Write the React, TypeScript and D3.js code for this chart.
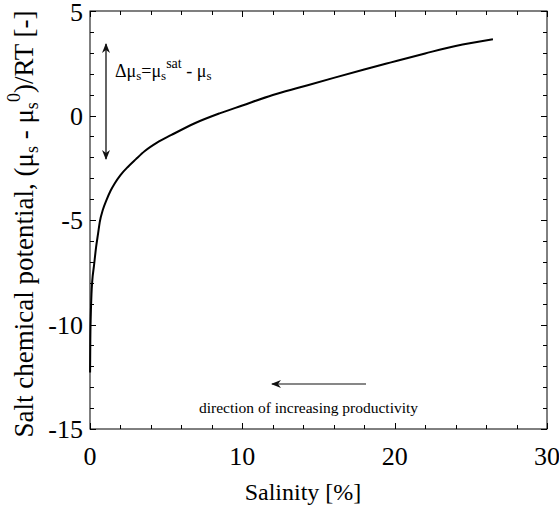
import React from 'react'
import * as d3 from 'd3'

// values
const salinity = [0.005, 0.02, 0.05, 0.1, 0.15, 0.26, 0.4, 0.53, 0.64, 0.85, 1.08, 1.35, 1.62, 2.0, 2.5, 3.0, 3.6, 4.4, 5.35, 6.88, 8.5, 10.0, 12.0, 13.8, 16.0, 18.0, 19.7, 22.0, 24.0, 26.45]
const potential = [-12.3, -10.8, -9.6, -8.5, -7.9, -7.2, -6.3, -5.65, -5.1, -4.5, -4.05, -3.6, -3.25, -2.85, -2.45, -2.1, -1.7, -1.3, -0.93, -0.37, 0.1, 0.48, 0.98, 1.35, 1.8, 2.2, 2.53, 2.97, 3.33, 3.65]
const xTicks = [0, 10, 20, 30]
const yTicks = [5, 0, -5, -10, -15]

const W = 559
const H = 508
const serif = { fontFamily: '"Liberation Serif", Tinos, serif' }

const left = 90, right = 547, top = 11, bottom = 429
const x = d3.scaleLinear().domain([0, 30]).range([left, right])
const y = d3.scaleLinear().domain([-15, 5]).range([bottom, top])

export default function App () {
  const pts: [number, number][] = salinity.map((s, i) => [s, potential[i]])
  const line = d3.line<[number, number]>()
    .x(d => x(d[0])).y(d => y(d[1]))
    .curve(d3.curveMonotoneX)

  const xMinor = d3.range(0, 31, 2)
  const yMinor = d3.range(-15, 6, 1)

  return (
    <svg width={W} height={H}
      style={{ position: 'absolute', left: 0, top: 0, background: '#fff', ...serif }}>
      <defs>
        <marker id="head" viewBox="0 0 10 10" refX={9} refY={5}
          markerWidth={10} markerHeight={10} markerUnits="userSpaceOnUse"
          orient="auto-start-reverse">
          <path d="M0,1 L10,5 L0,9 L3,5 Z" fill="#111" />
        </marker>
      </defs>

      {/* frame */}
      <rect x={left} y={top} width={right - left} height={bottom - top}
        fill="none" stroke="#000" strokeWidth={1} />

      {/* inward ticks, all four sides */}
      <g stroke="#000" strokeWidth={1}>
        {xMinor.map(v => {
          const len = v % 10 === 0 ? 6 : 4
          const px = Math.round(x(v)) + 0.5
          return (
            <g key={'x' + v}>
              <line x1={px} x2={px} y1={bottom} y2={bottom - len} />
              <line x1={px} x2={px} y1={top} y2={top + len} />
            </g>
          )
        })}
        {yMinor.map(v => {
          const len = v % 5 === 0 ? 6 : 4
          const py = Math.round(y(v)) + 0.5
          return (
            <g key={'y' + v}>
              <line x1={left} x2={left + len} y1={py} y2={py} />
              <line x1={right} x2={right - len} y1={py} y2={py} />
            </g>
          )
        })}
      </g>

      {/* tick labels */}
      {xTicks.map(d => (
        <text key={'xl' + d} x={x(d)} y={465} textAnchor="middle" fontSize={26} style={serif}>{d}</text>
      ))}
      {yTicks.map(d => (
        <text key={'yl' + d} x={83} y={Math.max(y(d) + 9, 21)} textAnchor="end" fontSize={26} style={serif}>{d}</text>
      ))}

      {/* axis titles */}
      <text x={303} y={500} textAnchor="middle" fontSize={24} style={serif}>Salinity [%]</text>
      <text transform="translate(33,224) rotate(-90)" textAnchor="middle" fontSize={27} style={serif}>
        <tspan>Salt chemical potential, (μ</tspan>
        <tspan fontSize={18} dy={5}>s</tspan>
        <tspan dy={-5}> - μ</tspan>
        <tspan fontSize={18} dy={5}>s</tspan>
        <tspan fontSize={18} dy={-18}>0</tspan>
        <tspan dy={13}>)/RT [-]</tspan>
      </text>

      {/* curve */}
      <path d={line(pts) ?? ''} fill="none" stroke="#000" strokeWidth={2} />

      {/* double arrow */}
      <line x1={106} x2={106} y1={44} y2={159} stroke="#111" strokeWidth={1.3}
        markerStart="url(#head)" markerEnd="url(#head)" />
      <text x={115} y={77} fontSize={18} style={serif}>
        <tspan>Δμ</tspan>
        <tspan fontSize={13} dy={3}>s</tspan>
        <tspan dy={-3}>=μ</tspan>
        <tspan fontSize={13} dy={3}>s</tspan>
        <tspan fontSize={14} dy={-12}>sat</tspan>
        <tspan dy={9}> - μ</tspan>
        <tspan fontSize={13} dy={3}>s</tspan>
      </text>

      {/* productivity arrow */}
      <line x1={366} x2={272} y1={384} y2={384} stroke="#111" strokeWidth={1.2}
        markerEnd="url(#head)" />
      <text x={199} y={413} fontSize={15.5} style={serif}>direction of increasing productivity</text>
    </svg>
  )
}
